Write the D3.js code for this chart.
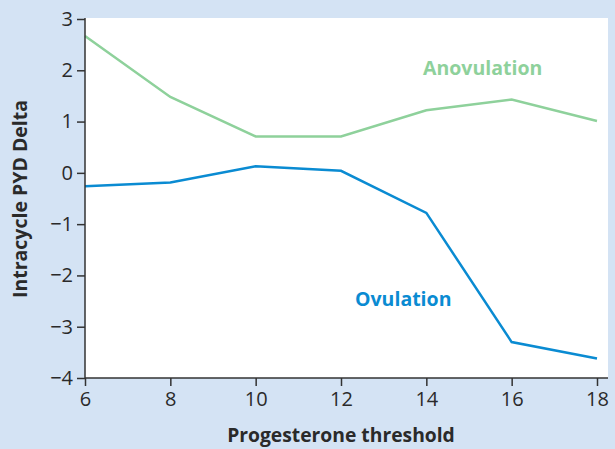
<!DOCTYPE html>
<html>
<head>
<meta charset="utf-8">
<script src="https://cdn.jsdelivr.net/npm/d3@7"></script>
<style>
  html, body { margin: 0; padding: 0; background: #d4e3f4; }
  svg { display: block; font-family: "Open Sans", sans-serif; }
</style>
</head>
<body>
<svg width="615" height="449"></svg>
<script>
var thresholds = [6, 8, 10, 12, 14, 16, 18]
var anovulation = [2.67, 1.48, 0.71, 0.71, 1.22, 1.43, 1.01]
var ovulation = [-0.26, -0.19, 0.13, 0.04, -0.78, -3.30, -3.62]
var yTicks = [3, 2, 1, 0, -1, -2, -3, -4]
var xTicks = [6, 8, 10, 12, 14, 16, 18]

var svg = d3.select('svg')
  , m = { left: 85, right: 597, top: 19, bottom: 378 }

var x = d3.scaleLinear().domain([6, 18]).range([m.left, m.right])
var y = d3.scaleLinear().domain([-4, 3]).range([m.bottom, m.top])

// white plot panel
svg.append('rect')
  .attr('x', m.left).attr('y', 18)
  .attr('width', 608 - m.left).attr('height', m.bottom - 18)
  .attr('fill', '#fff')

var line = d3.line().x(function (d, i) { return x(thresholds[i]) }).y(function (d) { return y(d) })

svg.append('path').datum(anovulation)
  .attr('d', line).attr('fill', 'none')
  .attr('stroke', '#8ed19b').attr('stroke-width', 2.5)

svg.append('path').datum(ovulation)
  .attr('d', line).attr('fill', 'none')
  .attr('stroke', '#0a8bd2').attr('stroke-width', 2.5)

var fmt = d3.format('d')

var xAxis = svg.append('g')
  .attr('transform', 'translate(0,' + m.bottom + ')')
  .call(d3.axisBottom(x).tickValues(xTicks).tickFormat(fmt).tickSize(8).tickSizeOuter(0).tickPadding(6))

var yAxis = svg.append('g')
  .attr('transform', 'translate(' + m.left + ',0)')
  .call(d3.axisLeft(y).tickValues(yTicks).tickFormat(fmt).tickSize(8).tickSizeOuter(0).tickPadding(4))

xAxis.select('.domain').attr('d', 'M' + m.left + ',0H608')
yAxis.select('.domain').attr('d', 'M0,18V' + m.bottom)

svg.selectAll('.domain, .tick line').attr('stroke', '#333').attr('stroke-width', 1.5)
svg.selectAll('.tick text')
  .attr('fill', '#2a2a2a')
  .attr('font-family', '"Open Sans", sans-serif')
  .attr('font-size', 20)
  .style('font-size', '20px')

svg.append('text')
  .attr('x', 341).attr('y', 442)
  .attr('text-anchor', 'middle')
  .attr('font-weight', 'bold').attr('font-size', 19.3).attr('fill', '#2a2a2a')
  .text('Progesterone threshold')

svg.append('text')
  .attr('transform', 'translate(27,199) rotate(-90)')
  .attr('text-anchor', 'middle')
  .attr('font-weight', 'bold').attr('font-size', 19.5).attr('fill', '#2a2a2a')
  .text('Intracycle PYD Delta')

svg.append('text')
  .attr('x', 423).attr('y', 75)
  .attr('font-weight', 'bold').attr('font-size', 19.5).attr('fill', '#8ed19b')
  .text('Anovulation')

svg.append('text')
  .attr('x', 355).attr('y', 306)
  .attr('font-weight', 'bold').attr('font-size', 19.5).attr('fill', '#0a8bd2')
  .text('Ovulation')
</script>
</body>
</html>
